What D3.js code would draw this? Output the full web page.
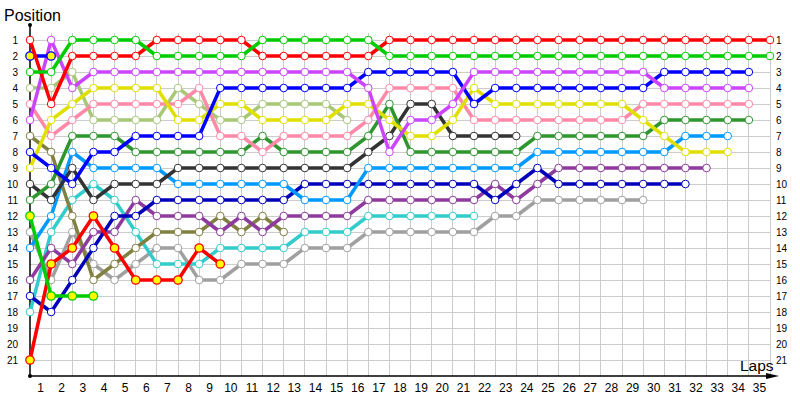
<!DOCTYPE html>
<html><head><meta charset="utf-8">
<script src="https://cdn.jsdelivr.net/npm/d3@7"></script>
<style>body{margin:0;background:#fff} text{font-family:"Liberation Sans",Arial,sans-serif}</style>
</head><body><svg id="c" width="800" height="400"></svg>
<script>
// ---- data (positions per lap, starting at lap 0) ----
const lapLabels = d3.range(1, 36);
const positionLabels = d3.range(1, 22);

const red        = [1,5,2,2,2,2,1,1,1,1,1,2,2,2,2,2,2,1,1,1,1,1,1,1,1,1,1,1,1,1,1,1,1,1,1,1];
const green      = [3,3,1,1,1,1,2,2,2,2,2,1,1,1,1,1,1,2,2,2,2,2,2,2,2,2,2,2,2,2,2,2,2,2,2,2];
const violet     = [6,1,4,3,3,3,3,3,3,3,3,3,3,3,3,3,4,8,6,6,5,3,3,3,3,3,3,3,3,3,4,4,4,4,4];
const blue       = [8,9,10,8,8,7,7,7,7,4,4,4,4,4,4,4,3,3,3,3,3,5,4,4,4,4,4,4,4,4,3,3,3,3,3];
const yellow     = [9,6,5,4,4,4,4,6,6,5,5,6,6,6,6,5,5,6,7,7,6,4,5,5,5,5,5,5,5,6,7,8,8,8];
const pink       = [5,7,6,5,5,5,5,5,4,7,7,8,7,7,7,7,6,4,4,4,4,6,6,6,6,6,6,6,6,5,5,5,5,5,5];
const paleGreen  = [4,4,3,6,6,6,6,4,5,6,6,5,5,5,5,6];
const darkGreen  = [11,10,7,7,7,8,8,8,8,8,8,7,8,8,8,8,7,5,8,8,8,8,8,8,7,7,7,7,7,7,6,6,6,6,6];
const black      = [10,11,9,11,10,10,10,9,9,9,9,9,9,9,9,9,8,7,5,5,7,7,7,7];
const lightBlue  = [14,12,8,9,9,9,9,10,10,10,10,10,10,11,11,11,9,9,9,9,9,9,9,9,8,8,8,8,8,8,8,7,7,7];
const navy       = [17,18,16,14,12,12,11,11,11,11,11,11,11,10,10,10,10,10,10,10,10,10,11,10,9,10,10,10,10,10,10,10];
const purple     = [16,14,15,13,13,11,12,12,12,13,12,13,12,12,12,12,11,11,11,11,11,11,10,11,10,9,9,9,9,9,9,9,9];
const olive      = [7,8,12,16,15,14,13,13,13,12,13,12,13];
const cyan       = [18,13,11,10,11,13,15,15,15,14,14,14,14,13,13,13,12,12,12,12,12,12];
const gray       = [13,16,13,15,16,15,14,14,16,16,15,15,15,14,14,14,13,13,13,13,13,13,12,12,11,11,11,11,11,11];
const redYellow  = [21,15,14,12,14,16,16,16,14,15];
const greenYellow= [12,17,17,17];
const blueYellow = [2,2];

const series = [
  {data: gray,        color: "#a0a0a0", fill: "#fff"},
  {data: cyan,        color: "#33cccc", fill: "#fff"},
  {data: olive,       color: "#808040", fill: "#fff"},
  {data: purple,      color: "#8e3a9e", fill: "#fff"},
  {data: navy,        color: "#0000bb", fill: "#fff"},
  {data: lightBlue,   color: "#0099ff", fill: "#fff"},
  {data: black,       color: "#333333", fill: "#fff"},
  {data: darkGreen,   color: "#2e962e", fill: "#fff"},
  {data: paleGreen,   color: "#a8c878", fill: "#fff"},
  {data: pink,        color: "#ff8aa8", fill: "#fff"},
  {data: yellow,      color: "#e0e000", fill: "#fff"},
  {data: blue,        color: "#0000ff", fill: "#fff"},
  {data: violet,      color: "#cc44ff", fill: "#fff"},
  {data: redYellow,   color: "#ff0000", fill: "#ffff00"},
  {data: greenYellow, color: "#00cc00", fill: "#ffff00"},
  {data: blueYellow,  color: "#0000ff", fill: "#ffff00"},
  {data: red,         color: "#ff0000", fill: "#fff"},
  {data: green,       color: "#00cc00", fill: "#fff"}
];

// ---- scales ----
const svg = d3.select("#c");
const x = d3.scaleLinear().domain([0, 35]).range([30, 770]);
const y = d3.scaleLinear().domain([1, 21]).range([40, 360]);
const xb = d3.scaleBand().domain(lapLabels).range([30, 770]);
const yBottom = y(22);

// ---- grid ----
const grid = svg.append("g").attr("stroke", "#cccccc").attr("stroke-width", 1).attr("shape-rendering","crispEdges");
grid.selectAll("line.h").data(positionLabels).join("line")
  .attr("x1", x(0)).attr("x2", x(35)).attr("y1", d => y(d)).attr("y2", d => y(d));
grid.selectAll("line.v").data(lapLabels).join("line")
  .attr("x1", d => x(d)).attr("x2", d => x(d)).attr("y1", y(1) - 7).attr("y2", yBottom);

// ---- axes ----
const leftAxis = svg.append("g").attr("transform", `translate(${x(0) - 12},0)`)
  .call(d3.axisLeft(y).tickValues(positionLabels).tickSize(0).tickPadding(0).tickFormat(d3.format("d")));
const rightAxis = svg.append("g").attr("transform", `translate(${x(35) + 6},0)`)
  .call(d3.axisRight(y).tickValues(positionLabels).tickSize(0).tickPadding(0).tickFormat(d3.format("d")));
[leftAxis, rightAxis].forEach(a => {
  a.select(".domain").remove();
  a.selectAll("text").attr("font-size", 10).attr("fill", "#000").attr("font-family", "Liberation Sans, Arial, sans-serif");
});
const bottomAxis = svg.append("g").attr("transform", `translate(0,${yBottom + 4})`)
  .call(d3.axisBottom(xb).tickSize(0).tickPadding(3));
bottomAxis.select(".domain").remove();
bottomAxis.selectAll("text").attr("font-size", 12).attr("fill", "#000").attr("font-family", "Liberation Sans, Arial, sans-serif");

// axis lines
svg.append("line").attr("x1", x(0)).attr("x2", x(0)).attr("y1", 25).attr("y2", yBottom)
  .attr("stroke", "#000").attr("stroke-width", 1.5);
svg.append("line").attr("x1", x(0)).attr("x2", 772).attr("y1", yBottom).attr("y2", yBottom)
  .attr("stroke", "#000").attr("stroke-width", 1.5);
svg.append("path").attr("d", `M766,${yBottom-3}L779,${yBottom}L766,${yBottom+3}Z`).attr("fill", "#000");
svg.append("circle").attr("cx", x(0)).attr("cy", 25).attr("r", 2).attr("fill", "#000");
svg.append("circle").attr("cx", x(0)).attr("cy", yBottom).attr("r", 2).attr("fill", "#000");

svg.append("text").attr("x", 4).attr("y", 21).attr("font-size", 16).text("Position");
svg.append("text").attr("x", 740).attr("y", 371).attr("font-size", 15.5).text("Laps");

// ---- series ----
const line = d3.line().x((d, i) => x(i)).y(d => y(d));
series.forEach(s => {
  const g = svg.append("g");
  g.append("path").attr("d", line(s.data)).attr("fill", "none")
    .attr("stroke", s.color).attr("stroke-width", 3.5).attr("stroke-linejoin", "round");
  g.selectAll("circle").data(s.data).join("circle")
    .attr("cx", (d, i) => x(i)).attr("cy", d => y(d))
    .attr("r", s.fill === "#fff" ? 3.8 : 4.2)
    .attr("fill", s.fill).attr("stroke", s.color).attr("stroke-width", s.fill === "#fff" ? 1 : 1.3);
});
</script></body></html>
